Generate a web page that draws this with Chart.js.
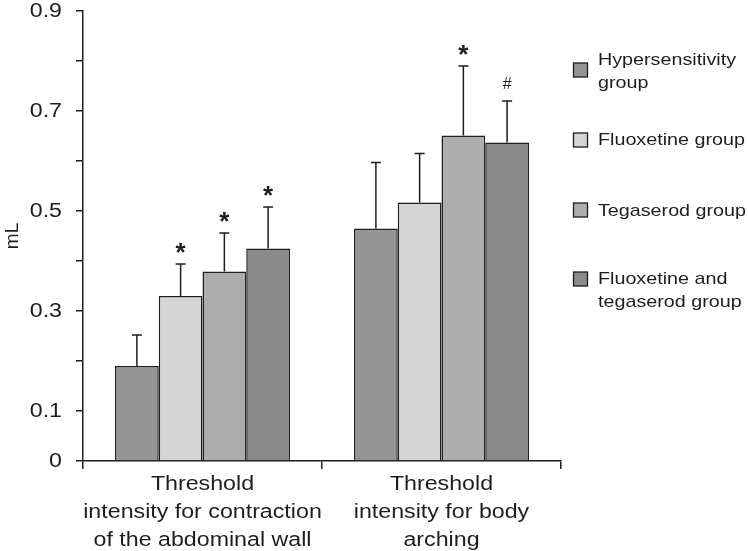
<!DOCTYPE html>
<html>
<head>
<meta charset="utf-8">
<script src="https://cdn.jsdelivr.net/npm/chart.js@4"></script>
<style>
  html, body { margin: 0; padding: 0; background: #fff; }
  #wrap { width: 748px; height: 551px; position: relative; }
</style>
</head>
<body>
<div id="wrap"><canvas id="chart"></canvas></div>
<script>
// data
const categories = [
  ['Threshold', 'intensity for contraction', 'of the abdominal wall'],
  ['Threshold', 'intensity for body', 'arching']
];
const groupNames = [
  ['Hypersensitivity', 'group'],
  ['Fluoxetine group'],
  ['Tegaserod group'],
  ['Fluoxetine and', 'tegaserod group']
];
const hyperValues = [0.19, 0.465];
const fluoxValues = [0.33, 0.517];
const tegaValues = [0.379, 0.651];
const comboValues = [0.425, 0.637];
const hyperErr = [0.062, 0.132];
const fluoxErr = [0.064, 0.098];
const tegaErr = [0.077, 0.139];
const comboErr = [0.083, 0.083];
const hyperMarks = ['', ''];
const fluoxMarks = ['*', ''];
const tegaMarks = ['*', '*'];
const comboMarks = ['*', '#'];
const yTickLabels = ['0', '0.1', '0.3', '0.5', '0.7', '0.9'];

const barColors = ['#959595', '#d5d5d5', '#adadad', '#8a8a8a'];
const FONT = 'Liberation Sans, Arial, Helvetica, sans-serif';
const INK = '#1e1e1e';
const STRETCH = 1.16; // the figure's lettering is a little wide

function wideText(ctx, text, x, y, size, align, baseline) {
  ctx.save();
  ctx.translate(x, y);
  ctx.scale(STRETCH, 1);
  ctx.font = size + 'px ' + FONT;
  ctx.fillStyle = INK;
  ctx.textAlign = align;
  ctx.textBaseline = baseline;
  ctx.fillText(text, 0, 0);
  ctx.restore();
}

const errorBars = {
  id: 'errorBars',
  afterDatasetsDraw(chart) {
    const ctx = chart.ctx;
    const y = chart.scales.y;
    ctx.save();
    chart.data.datasets.forEach((ds, di) => {
      chart.getDatasetMeta(di).data.forEach((bar, i) => {
        const top = y.getPixelForValue(ds.data[i] + ds.err[i]);
        ctx.strokeStyle = INK;
        ctx.lineWidth = 1.5;
        ctx.beginPath();
        ctx.moveTo(bar.x, bar.y);
        ctx.lineTo(bar.x, top);
        ctx.moveTo(bar.x - 5, top);
        ctx.lineTo(bar.x + 5, top);
        ctx.stroke();
        const mark = ds.marks[i];
        if (mark === '*') {
          ctx.font = 'bold 26px ' + FONT;
          ctx.fillStyle = INK;
          ctx.textAlign = 'center';
          ctx.textBaseline = 'alphabetic';
          ctx.fillText(mark, bar.x, top - 3);
        } else if (mark) {
          ctx.font = '16px ' + FONT;
          ctx.fillStyle = INK;
          ctx.textAlign = 'center';
          ctx.textBaseline = 'middle';
          ctx.fillText(mark, bar.x, top - 16);
        }
      });
    });
    ctx.restore();
  }
};

const axisText = {
  id: 'axisText',
  afterDraw(chart) {
    const ctx = chart.ctx;
    const x = chart.scales.x;
    const y = chart.scales.y;
    y.ticks.forEach(t => {
      const s = String(Math.round(t.value * 10) / 10);
      if (yTickLabels.includes(s)) wideText(ctx, s, 62, y.getPixelForValue(t.value), 20, 'right', 'middle');
    });
    categories.forEach((lines, i) => {
      const cx = x.getPixelForValue(i);
      lines.forEach((t, k) => wideText(ctx, t, cx, 490 + k * 28, 20, 'center', 'alphabetic'));
    });
    ctx.save();
    ctx.translate(13, 236);
    ctx.rotate(-Math.PI / 2);
    ctx.font = '19px ' + FONT;
    ctx.fillStyle = INK;
    ctx.textAlign = 'center';
    ctx.textBaseline = 'middle';
    ctx.fillText('mL', 0, 0);
    ctx.restore();
  }
};

const sideLegend = {
  id: 'sideLegend',
  afterDraw(chart) {
    const ctx = chart.ctx;
    const boxY = [70, 140, 210, 279];
    const lineY = [[60, 83], [140], [211], [279, 302]];
    groupNames.forEach((lines, i) => {
      ctx.save();
      ctx.fillStyle = barColors[i];
      ctx.fillRect(573.5, boxY[i] - 7, 14, 14);
      ctx.strokeStyle = INK;
      ctx.lineWidth = 1.3;
      ctx.strokeRect(573.5, boxY[i] - 7, 14, 14);
      ctx.restore();
      lines.forEach((t, k) => wideText(ctx, t, 598, lineY[i][k], 17, 'left', 'middle'));
    });
  }
};

const mkSet = (label, data, err, marks, color) => ({
  label, data, err, marks,
  backgroundColor: color,
  borderColor: INK,
  borderWidth: 1.5,
  borderSkipped: 'bottom',
  categoryPercentage: 0.732,
  barPercentage: 1.0
});

new Chart(document.getElementById('chart'), {
  type: 'bar',
  data: {
    labels: categories,
    datasets: [
      mkSet(groupNames[0].join(' '), hyperValues, hyperErr, hyperMarks, barColors[0]),
      mkSet(groupNames[1].join(' '), fluoxValues, fluoxErr, fluoxMarks, barColors[1]),
      mkSet(groupNames[2].join(' '), tegaValues, tegaErr, tegaMarks, barColors[2]),
      mkSet(groupNames[3].join(' '), comboValues, comboErr, comboMarks, barColors[3])
    ]
  },
  options: {
    responsive: true,
    maintainAspectRatio: false,
    animation: false,
    layout: { padding: { left: 0, right: 187, top: 11, bottom: 0 } },
    plugins: { legend: { display: false }, tooltip: { enabled: false } },
    scales: {
      x: {
        grid: { drawOnChartArea: false, drawTicks: true, tickLength: 8, color: INK, lineWidth: 1.5, offset: true },
        border: { display: true, color: INK, width: 1.5 },
        ticks: { display: false },
        afterFit: s => { s.height = 90; }
      },
      y: {
        min: 0,
        max: 0.9,
        grid: { drawOnChartArea: false, drawTicks: true, tickLength: 7, color: INK, lineWidth: 1.5 },
        border: { display: true, color: INK, width: 1.5 },
        ticks: { display: false, stepSize: 0.1 },
        afterFit: s => { s.width = 83; }
      }
    }
  },
  plugins: [errorBars, axisText, sideLegend]
});
</script>
</body>
</html>
